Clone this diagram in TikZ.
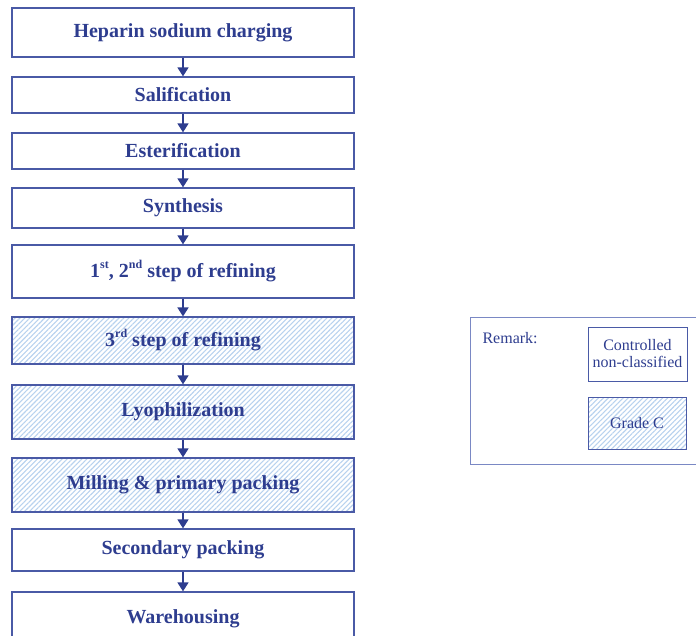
\documentclass[tikz,border=0pt]{standalone}
\usepackage{fontspec}
\setmainfont{Liberation Serif}
\usepackage{xcolor}
\usepackage{tikz}
\usetikzlibrary{arrows.meta, patterns.meta, positioning}

\definecolor{flowblue}{HTML}{2E3D8F}
\definecolor{edgeblue}{HTML}{4A5AA6}
\definecolor{frameblue}{HTML}{7A88C4}
\definecolor{hatchblue}{HTML}{B8D2EE}

\newcommand{\supx}[1]{\raisebox{0.45em}{\fontsize{12}{12}\selectfont #1}}

\begin{document}
\begin{tikzpicture}[x=1pt, y=-1pt,
    procbox/.style={rectangle, draw=edgeblue, line width=1.3pt, text=flowblue, minimum width=342pt, font=\fontsize{20}{24}\selectfont\bfseries},
    gradec/.style={pattern={Lines[angle=45, distance=3.5pt, line width=1.1pt]}, pattern color=hatchblue},
    arrow/.style={-{Triangle[length=9pt, width=11pt]}, line width=1.6pt, draw=flowblue},
    keybox/.style={rectangle, draw=edgeblue, line width=1pt, text=flowblue, align=center, font=\fontsize{16}{17}\selectfont},
    label/.style={text=flowblue, font=\fontsize{16}{17}\selectfont}
]
\useasboundingbox (0,0) rectangle (696,635);

% Process steps
\node[procbox, minimum height=49pt] (charge) at (183, 32.5) {Heparin sodium charging};
\node[procbox, minimum height=36pt] (salif) at (183, 95) {Salification};
\node[procbox, minimum height=36pt] (ester) at (183, 151) {Esterification};
\node[procbox, minimum height=40pt] (synth) at (183, 208) {Synthesis};
\node[procbox, minimum height=53pt] (refine12) at (183, 271.5) {1\supx{st}, 2\supx{nd} step of refining};
\node[procbox, gradec, minimum height=47pt] (refine3) at (183, 340.5) {3\supx{rd} step of refining};
\node[procbox, gradec, minimum height=54pt] (lyo) at (183, 412) {Lyophilization};
\node[procbox, gradec, minimum height=54pt] (milling) at (183, 485) {Milling \& primary packing};
\node[procbox, minimum height=42pt] (secpack) at (183, 550) {Secondary packing};
\node[procbox, minimum height=53pt] (warehouse) at (183, 618.5) {Warehousing};

\draw[arrow] (charge) -- (salif);
\draw[arrow] (salif) -- (ester);
\draw[arrow] (ester) -- (synth);
\draw[arrow] (synth) -- (refine12);
\draw[arrow] (refine12) -- (refine3);
\draw[arrow] (refine3) -- (lyo);
\draw[arrow] (lyo) -- (milling);
\draw[arrow] (milling) -- (secpack);
\draw[arrow] (secpack) -- (warehouse);

% Remark
\node[draw=frameblue, line width=1pt, minimum width=232pt, minimum height=147pt] (remark) at (586, 390.5) {};
\node[label, anchor=west] (remarklbl) at (479, 338) {Remark:};
\node[keybox, minimum width=99pt, minimum height=54pt] (uncls) at (637.5, 354) {Controlled\\non-classified};
\node[keybox, gradec, minimum width=98pt, minimum height=52pt] (gradekey) at (637, 423) {Grade C};

\end{tikzpicture}
\end{document}
